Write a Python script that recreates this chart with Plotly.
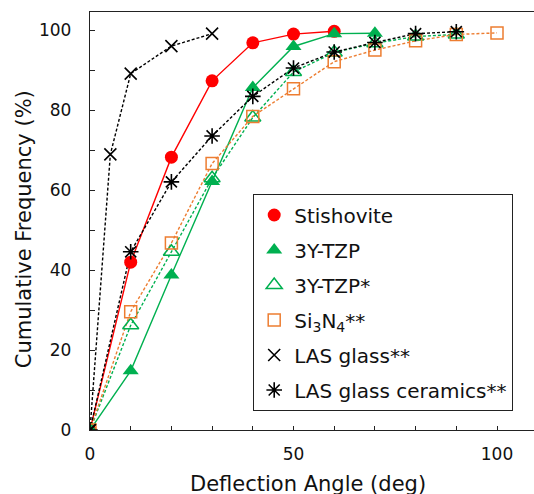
import plotly.graph_objects as go

# ---- data ----
stis_x = [0, 10, 20, 30, 40, 50, 60]
stis_y = [0, 42, 68.3, 87.4, 96.9, 99.1, 99.8]

tzp_x = [0, 10, 20, 30, 40, 50, 60, 70]
tzp_y = [0, 14.8, 38.8, 62.2, 85.7, 96.0, 99.2, 99.3]

tzps_x = [0, 10, 20, 30, 40, 50, 60, 70, 80, 90]
tzps_y = [0, 26.2, 44.6, 63.0, 78.2, 89.6, 94.5, 96.8, 98.5, 99.0]

si_x = [0, 10, 20, 30, 40, 50, 60, 70, 80, 90, 100]
si_y = [0, 29.6, 46.8, 66.7, 78.5, 85.4, 92.2, 95.1, 97.4, 99.0, 99.4]

lasg_x = [0, 5, 10, 20, 30]
lasg_y = [0, 69, 89.2, 96.1, 99.2]

lasc_x = [0, 10, 20, 30, 40, 50, 60, 70, 80, 90]
lasc_y = [0, 44.6, 62.1, 73.6, 83.5, 90.6, 94.6, 97.0, 99.2, 99.7]

names = ["Stishovite", "3Y-TZP", "3Y-TZP*", "Si<sub>3</sub>N<sub>4</sub>**",
         "LAS glass**", "LAS glass ceramics**"]

x_tickvals = [0, 50, 100]
x_ticktext = ["0", "50", "100"]
x_minorvals = [10, 20, 30, 40, 60, 70, 80, 90]
y_tickvals = [0, 20, 40, 60, 80, 100]
y_ticktext = ["0", "20", "40", "60", "80", "100"]
y_minorvals = [10, 30, 50, 70, 90]

RED = "#ff0000"
GREEN = "#00b050"
ORANGE = "#ed7d31"
BLACK = "#000000"
FONT = "DejaVu Sans"
TXT = "#111111"
AX = "#222222"

series = [
    (stis_x, stis_y, names[0], RED, "solid", dict(symbol="circle", size=13, color=RED)),
    (tzp_x, tzp_y, names[1], GREEN, "solid", dict(symbol="triangle-up", size=14, color=GREEN)),
    (tzps_x, tzps_y, names[2], GREEN, "3px,2px",
     dict(symbol="triangle-up-open", size=14, color=GREEN, line=dict(width=1.5, color=GREEN))),
    (si_x, si_y, names[3], ORANGE, "3px,2px",
     dict(symbol="square-open", size=12, color=ORANGE, line=dict(width=1.5, color=ORANGE))),
    (lasg_x, lasg_y, names[4], BLACK, "3px,2px",
     dict(symbol="x-thin-open", size=12, color=BLACK, line=dict(width=1.6, color=BLACK))),
    (lasc_x, lasc_y, names[5], BLACK, "3px,2px",
     dict(symbol="asterisk-open", size=13, color=BLACK, line=dict(width=1.6, color=BLACK))),
]

fig = go.Figure()
for i, (xs, ys, nm, col, dash, mk) in enumerate(series):
    fig.add_trace(go.Scatter(x=xs, y=ys, mode="lines", showlegend=False,
                             line=dict(color=col, width=1.4, dash=dash),
                             legendgroup=f"g{i}", hoverinfo="skip"))
for i, (xs, ys, nm, col, dash, mk) in enumerate(series):
    fig.add_trace(go.Scatter(x=xs, y=ys, mode="markers", name=nm, marker=mk,
                             legendgroup=f"g{i}"))

L, R, T, B = 90, 0, 11.5, 64
W, H = 534, 494
pw, ph = W - L - R, H - T - B

fig.update_layout(
    width=W, height=H,
    margin=dict(l=L, r=R, t=T, b=B, pad=0),
    plot_bgcolor="white", paper_bgcolor="white",
    font=dict(family=FONT, color=TXT, size=17),
    showlegend=True,
    legend=dict(
        x=(253 - L) / pw, y=(H - B - 194) / ph, xanchor="left", yanchor="top",
        bgcolor="white", bordercolor=AX, borderwidth=1.2,
        font=dict(family=FONT, size=20, color=TXT),
        tracegroupgap=6, traceorder="grouped",
    ),
    xaxis=dict(range=[0, pw / 4.07], showgrid=False, zeroline=False,
               showline=True, linecolor=AX, linewidth=1.3, mirror=True,
               ticks="inside", ticklen=4, tickwidth=1.2, tickcolor=AX,
               tickmode="array", tickvals=x_tickvals, ticktext=x_ticktext,
               minor=dict(tickmode="array", tickvals=x_minorvals, ticks="inside",
                          ticklen=4, tickwidth=1.2, tickcolor=AX, showgrid=False),
               tickfont=dict(size=17, family=FONT, color=TXT),
               ticklabelstandoff=8),
    yaxis=dict(range=[0, ph / 4.0], showgrid=False, zeroline=False,
               showline=True, linecolor=AX, linewidth=1.3, mirror=False,
               ticks="inside", ticklen=5, tickwidth=1.2, tickcolor=AX,
               tickmode="array", tickvals=y_tickvals, ticktext=y_ticktext,
               minor=dict(tickmode="array", tickvals=y_minorvals, ticks="inside",
                          ticklen=5, tickwidth=1.2, tickcolor=AX, showgrid=False),
               tickfont=dict(size=17, family=FONT, color=TXT),
               ticklabelstandoff=14),
    annotations=[
        dict(text="Deflection Angle (deg)", xref="paper", yref="paper",
             x=(308 - L) / pw, y=-(484 - (H - B)) / ph, xanchor="center", yanchor="middle",
             showarrow=False, font=dict(size=21, family=FONT, color=TXT)),
        dict(text="Cumulative Frequency (%)", xref="paper", yref="paper",
             x=(24 - L) / pw, y=((H - B) - 229) / ph, xanchor="center", yanchor="middle",
             textangle=-90, showarrow=False, font=dict(size=21, family=FONT, color=TXT)),
    ],
)

fig.write_html("out.html", config={"displayModeBar": False},
               post_script="document.body.style.margin='0px';document.body.style.overflow='hidden';")
